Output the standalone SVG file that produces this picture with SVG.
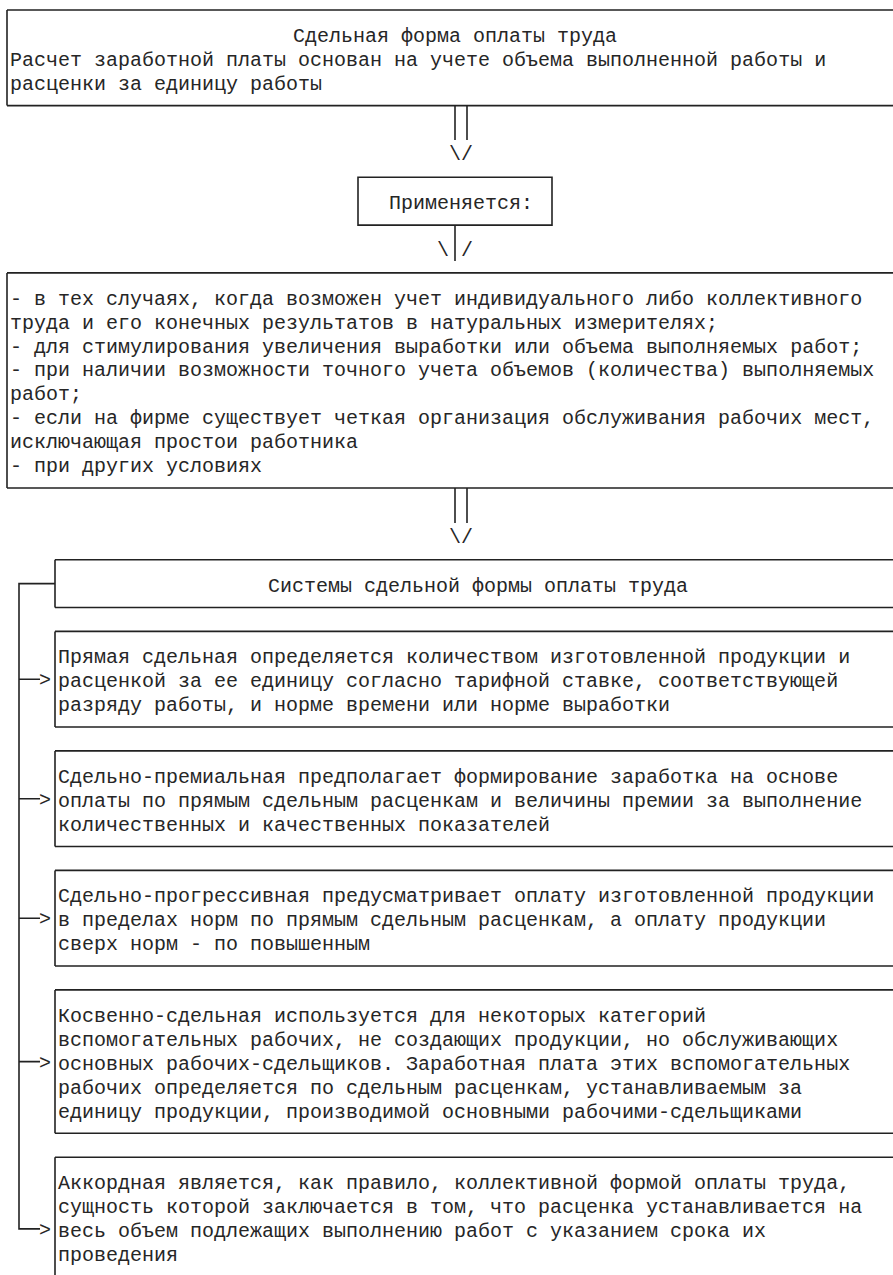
<svg xmlns="http://www.w3.org/2000/svg" width="893" height="1275" viewBox="0 0 893 1275">
<style>
text{font-family:"Liberation Mono","DejaVu Sans Mono",monospace;font-size:20px;fill:#262626;white-space:pre}
.b{fill:none;stroke:#222;stroke-width:1.6}
.c{fill:none;stroke:#222;stroke-width:1.6}
</style>
<rect width="893" height="1275" fill="#fff"/>
<g id="box-main">
<path class="b" d="M7,10H893M7,105.6H893M7,10V105.6"/>
<text x="293" y="42">Сдельная форма оплаты труда</text>
<text x="10" y="66">Расчет заработной платы основан на учете объема выполненной работы и</text>
<text x="10" y="90">расценки за единицу работы</text>
</g>
<g id="box-apply">
<path class="b" d="M358,177.3H552V225.1H358Z"/>
<text x="389" y="209">Применяется:</text>
</g>
<g id="box-cases">
<path class="b" d="M7,272.9H893M7,488H893M7,272.9V488"/>
<text x="10" y="305">- в тех случаях, когда возможен учет индивидуального либо коллективного</text>
<text x="10" y="329">труда и его конечных результатов в натуральных измерителях;</text>
<text x="10" y="353">- для стимулирования увеличения выработки или объема выполняемых работ;</text>
<text x="10" y="376">- при наличии возможности точного учета объемов (количества) выполняемых</text>
<text x="10" y="400">работ;</text>
<text x="10" y="424">- если на фирме существует четкая организация обслуживания рабочих мест,</text>
<text x="10" y="448">исключающая простои работника</text>
<text x="10" y="472">- при других условиях</text>
</g>
<g id="box-systems">
<path class="b" d="M55,559.7H893M55,607.5H893M55,559.7V607.5"/>
<text x="268" y="592">Системы сдельной формы оплаты труда</text>
</g>
<g id="box-direct">
<path class="b" d="M55,631.4H893M55,727H893M55,631.4V727"/>
<text x="58" y="663">Прямая сдельная определяется количеством изготовленной продукции и</text>
<text x="58" y="687">расценкой за ее единицу согласно тарифной ставке, соответствующей</text>
<text x="58" y="711">разряду работы, и норме времени или норме выработки</text>
</g>
<g id="box-premium">
<path class="b" d="M55,750.9H893M55,846.5H893M55,750.9V846.5"/>
<text x="58" y="783">Сдельно-премиальная предполагает формирование заработка на основе</text>
<text x="58" y="807">оплаты по прямым сдельным расценкам и величины премии за выполнение</text>
<text x="58" y="831">количественных и качественных показателей</text>
</g>
<g id="box-progressive">
<path class="b" d="M55,870.4H893M55,966H893M55,870.4V966"/>
<text x="58" y="902">Сдельно-прогрессивная предусматривает оплату изготовленной продукции</text>
<text x="58" y="926">в пределах норм по прямым сдельным расценкам, а оплату продукции</text>
<text x="58" y="950">сверх норм - по повышенным</text>
</g>
<g id="box-indirect">
<path class="b" d="M55,989.9H893M55,1133.3H893M55,989.9V1133.3"/>
<text x="58" y="1022">Косвенно-сдельная используется для некоторых категорий</text>
<text x="58" y="1046">вспомогательных рабочих, не создающих продукции, но обслуживающих</text>
<text x="58" y="1070">основных рабочих-сдельщиков. Заработная плата этих вспомогательных</text>
<text x="58" y="1094">рабочих определяется по сдельным расценкам, устанавливаемым за</text>
<text x="58" y="1118">единицу продукции, производимой основными рабочими-сдельщиками</text>
</g>
<g id="box-chord">
<path class="b" d="M55,1157.2H893M55,1157.2V1275"/>
<text x="58" y="1189">Аккордная является, как правило, коллективной формой оплаты труда,</text>
<text x="58" y="1213">сущность которой заключается в том, что расценка устанавливается на</text>
<text x="58" y="1237">весь объем подлежащих выполнению работ с указанием срока их</text>
<text x="58" y="1261">проведения</text>
</g>
<g id="connectors">
<path class="c" d="M455,105.6V140M467,105.6V140"/>
<text x="449" y="160">\/</text>
<path class="c" d="M455,225.1V261"/>
<text x="437" y="256">\</text>
<text x="461" y="256">/</text>
<path class="c" d="M455,488V523M467,488V523"/>
<text x="449" y="543">\/</text>
<path class="c" d="M55,583.6H19V1228.9H40M19,679.2H40M19,798.7H40M19,918.2H40M19,1061.6H40"/>
<text x="39" y="686">&gt;</text>
<text x="39" y="806">&gt;</text>
<text x="39" y="925">&gt;</text>
<text x="39" y="1069">&gt;</text>
<text x="39" y="1236">&gt;</text>
</g>
</svg>
